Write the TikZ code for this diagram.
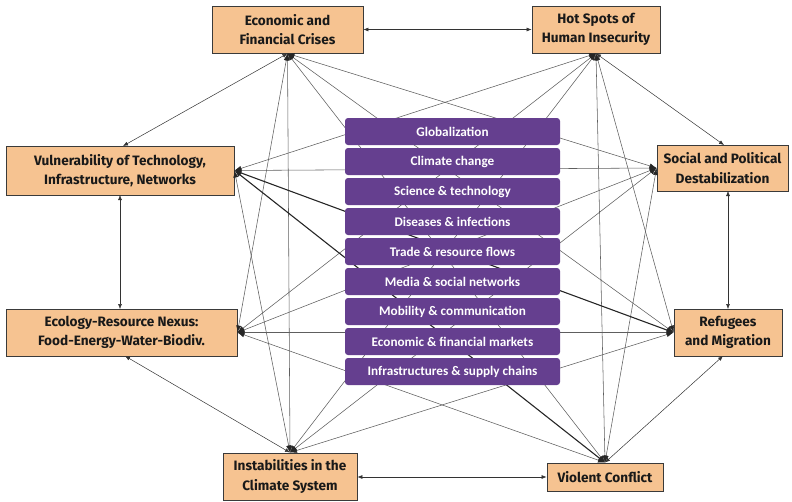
\documentclass[tikz,border=0pt]{standalone}
\usepackage{fontspec}
\setmainfont{Fira Sans}
\newfontfamily\boxfont{Carlito}
\usetikzlibrary{arrows.meta}
\definecolor{peach}{HTML}{F6C391}
\definecolor{boxline}{HTML}{3A3A3A}
\definecolor{purp}{HTML}{653F8F}
\definecolor{lgray}{HTML}{5E5E5E}
\tikzset{
  outer/.style={draw=boxline, line width=0.9pt, fill=peach, inner sep=0pt, align=center,
    font=\fontsize{13.6}{19.5}\selectfont\bfseries, text=black!90},
  driver/.style={fill=purp, rounded corners=3pt, minimum width=215pt, minimum height=27pt,
    inner sep=0pt, font=\boxfont\bfseries\fontsize{13.2}{15}\selectfont, text=white},
  link/.style={draw=lgray, line width=0.55pt, {Latex[length=7pt,width=5pt,black!85]}-{Latex[length=7pt,width=5pt,black!85]}},
  strong/.style={draw=black!85, line width=1.1pt},
  adj/.style={draw=black!80, line width=0.5pt, {Latex[length=5pt,width=4pt]}-{Latex[length=5pt,width=4pt]}}
}
\begin{document}
\begin{tikzpicture}[x=1pt,y=-1pt]
\useasboundingbox (0,0) rectangle (792,501);
% outer nodes
\node[outer, minimum width=151pt, minimum height=47pt] (E) at (287.5,29.5) {Economic and\\Financial Crises};
\node[outer, minimum width=128pt, minimum height=47pt] (H) at (596,29.5) {Hot Spots of\\Human Insecurity};
\node[outer, minimum width=228pt, minimum height=49pt] (U) at (120,170.5) {Vulnerability of Technology,\\Infrastructure, Networks};
\node[outer, minimum width=131pt, minimum height=46pt] (S) at (722.5,168) {Social and Political\\Destabilization};
\node[outer, minimum width=231pt, minimum height=47pt] (Y) at (121.5,332.5) {Ecology-Resource Nexus:\\Food-Energy-Water-Biodiv.};
\node[outer, minimum width=108pt, minimum height=47pt] (R) at (728,332.5) {Refugees\\and Migration};
\node[outer, minimum width=134pt, minimum height=47pt] (I) at (290,476.5) {Instabilities in the\\Climate System};
\node[outer, minimum width=116pt, minimum height=28pt] (V) at (605,477) {Violent Conflict};
% hubs
\coordinate (Eh) at (E.south);
\coordinate (Hh) at (H.south);
\coordinate (Uh) at (U.east);
\coordinate (Sh) at (S.west);
\coordinate (Yh) at (Y.east);
\coordinate (Rh) at (R.west);
\coordinate (Ih) at (I.north);
\coordinate (Vh) at (V.north);
% arrow targets on box edges
\coordinate (Ut) at (123,146);
\coordinate (Ub) at (120,195);
\coordinate (Yt) at (120,309);
\coordinate (Yb) at (125,356);
\coordinate (St) at (724,145);
\coordinate (Sb) at (728,191);
\coordinate (Rt) at (728,309);
\coordinate (Rb) at (723,356);
% non-adjacent links
\foreach \a/\b in {Eh/Sh, Eh/Rh, Eh/Vh, Eh/Ih, Eh/Yh,
                   Hh/Rh, Hh/Vh, Hh/Ih, Hh/Yh, Hh/Uh,
                   Sh/Vh, Sh/Ih, Sh/Yh, Sh/Uh,
                   Rh/Ih, Rh/Yh,
                   Vh/Yh,
                   Ih/Uh}
  \draw[link] (\a) -- (\b);
\draw[link, strong] (Rh) -- (Uh);
\draw[link, strong] (Vh) -- (Uh);
% adjacent arrows
\draw[adj] (E.east) -- (H.west);
\draw[adj] (I.east |- V.east) -- (V.west);
\draw[adj] (Ub) -- (Yt);
\draw[adj] (Sb) -- (Rt);
\draw[adj] (Eh) -- (Ut);
\draw[adj] (Hh) -- (St);
\draw[adj] (Ih) -- (Yb);
\draw[adj] (Vh) -- (Rb);
% drivers
\foreach \t [count=\i from 0] in {Globalization, Climate change, Science \& technology,
   Diseases \& infections, Trade \& resource flows, Media \& social networks,
   Mobility \& communication, Economic \& financial markets, Infrastructures \& supply chains}
  \node[driver] (d\i) at (452.5,131.5+30*\i) {\t};
\end{tikzpicture}
\end{document}
